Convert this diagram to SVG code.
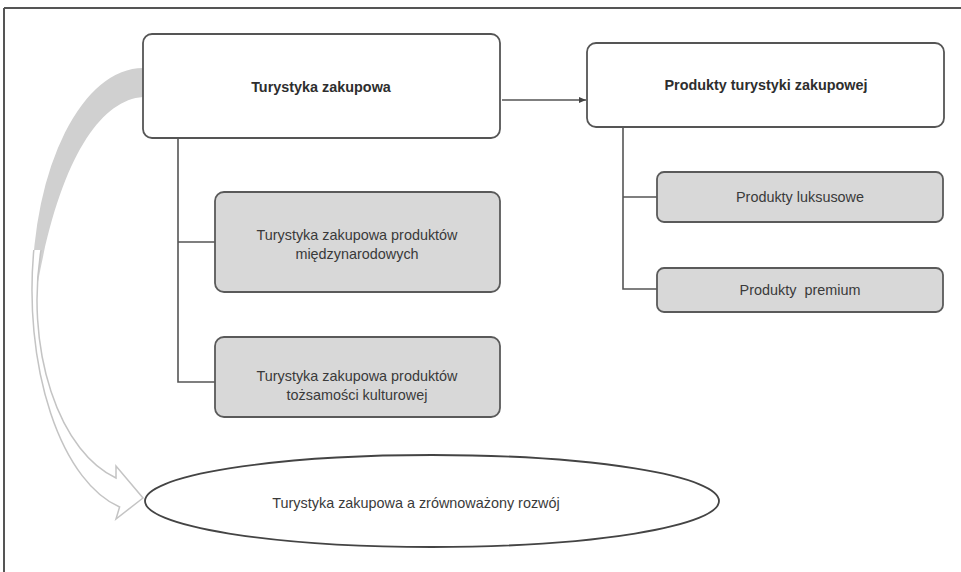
<svg xmlns="http://www.w3.org/2000/svg" width="961" height="572" viewBox="0 0 961 572">
<style>
.box{fill:#ffffff;stroke:#555555;stroke-width:1.8}
.gbox{fill:#d8d8d8;stroke:#5a5a5a;stroke-width:1.8}
.conn{fill:none;stroke:#555555;stroke-width:1.6}
.t{font-family:"Liberation Sans",Arial,sans-serif;font-size:14.4px;fill:#3a3a3a;text-anchor:middle}
.b{font-weight:bold;fill:#2e2e2e}
</style>
<defs>
<marker id="ah" markerWidth="8" markerHeight="8" refX="7" refY="4" orient="auto" markerUnits="userSpaceOnUse">
<path d="M0,1 L7,4 L0,7 Z" fill="#444444"/>
</marker>
</defs>
<rect width="961" height="572" fill="#ffffff"/>
<g id="frame">
<line x1="4" y1="8" x2="961" y2="8" stroke="#555555" stroke-width="2"/>
<line x1="4" y1="8" x2="4" y2="572" stroke="#555555" stroke-width="2"/>
</g>
<g id="curved-arrow">
<path d="M143,68 A111,222 0 0 0 32.2,288 L38,282 C60,160 100,100 143,97 Z" fill="#d0d0d0"/>
<path d="M33.8,250 A111,222 0 0 0 119.6,507 L116,519 L143,498 L116,466 L116,478 A106,184 0 0 1 41,250" fill="#ffffff" stroke="#c4c4c4" stroke-width="1.5"/>
</g>
<g id="connectors">
<line class="conn" x1="502" y1="100" x2="586" y2="100" stroke-width="1" marker-end="url(#ah)"/>
<polyline class="conn" points="178,138 178,382 215,382"/>
<line class="conn" x1="178" y1="242" x2="215" y2="242"/>
<polyline class="conn" points="623,127 623,289 657,289"/>
<line class="conn" x1="623" y1="197" x2="657" y2="197"/>
</g>
<g id="node-turystyka">
<rect class="box" x="143" y="34" width="357" height="104" rx="9"/>
<text class="t b" x="321" y="92" font-size="14.8">Turystyka zakupowa</text>
</g>
<g id="node-produkty">
<rect class="box" x="587" y="43" width="357" height="84" rx="9"/>
<text class="t b" x="766" y="90" font-size="14.8">Produkty turystyki zakupowej</text>
</g>
<g id="node-miedzynarodowe">
<rect class="gbox" x="215" y="192" width="285" height="100" rx="9"/>
<text class="t" x="357" y="240">Turystyka zakupowa produktów</text>
<text class="t" x="357" y="259">międzynarodowych</text>
</g>
<g id="node-kulturowe">
<rect class="gbox" x="215" y="337" width="285" height="80" rx="9"/>
<text class="t" x="357" y="381">Turystyka zakupowa produktów</text>
<text class="t" x="357" y="400">tożsamości kulturowej</text>
</g>
<g id="node-luksusowe">
<rect class="gbox" x="657" y="172" width="286" height="50" rx="7"/>
<text class="t" x="800" y="202">Produkty luksusowe</text>
</g>
<g id="node-premium">
<rect class="gbox" x="657" y="268" width="286" height="44" rx="7"/>
<text class="t" x="800" y="295" xml:space="preserve">Produkty  premium</text>
</g>
<g id="node-rozwoj">
<ellipse cx="432" cy="501" rx="287" ry="46" fill="#ffffff" stroke="#444444" stroke-width="1.8"/>
<text class="t" x="416" y="508">Turystyka zakupowa a zrównoważony rozwój</text>
</g>
</svg>
